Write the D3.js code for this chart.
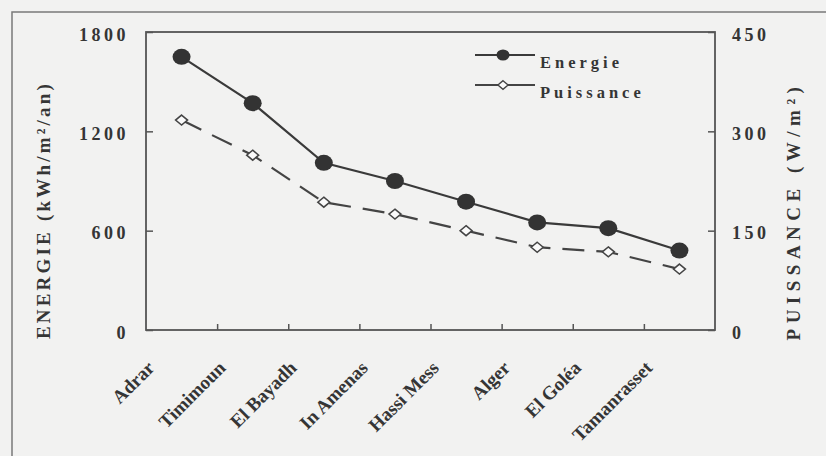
<!DOCTYPE html>
<html>
<head>
<meta charset="utf-8">
<script src="https://cdn.jsdelivr.net/npm/d3@7"></script>
<style>
  body { margin: 0; background: #f2f2f1; }
  svg { display: block; }
  text { font-family: "Liberation Serif", "Times New Roman", serif; font-weight: bold; fill: #353535; }
</style>
</head>
<body>
<svg id="chart"></svg>
<script>
var width = 826;
var height = 456;

// data
var stations = ["Adrar", "Timimoun", "El Bayadh", "In Amenas", "Hassi Mess", "Alger", "El Goléa", "Tamanrasset"];
var energie = [1650, 1370, 1010, 900, 775, 650, 615, 480];      // kWh/m²/an, left axis
var puissance = [317, 264, 193, 175, 150, 125, 118, 92];        // W/m², right axis
var leftTicks = [0, 600, 1200, 1800];
var rightTicks = [0, 150, 300, 450];

// plot box (don't call these top/left: window.top is taken)
var plotL = 146, plotR = 715, plotT = 32, plotB = 330;

var svg = d3.select("#chart")
	.attr("width", width)
	.attr("height", height);

// outer frame of the figure (only left and top edges are in view)
svg.append("rect")
	.attr("x", 12).attr("y", 12)
	.attr("width", 900).attr("height", 600)
	.attr("fill", "none")
	.attr("stroke", "#7a7a7a")
	.attr("stroke-width", 1.5);

var x = d3.scaleBand().domain(stations).range([plotL, plotR]).padding(0);
var xIdx = d3.scaleLinear().domain([0, stations.length]).range([plotL, plotR]);
var yL = d3.scaleLinear().domain([0, 1800]).range([plotB, plotT]);
var yR = d3.scaleLinear().domain([0, 450]).range([plotB, plotT]);

function cx(d, i) { return x(stations[i]) + x.bandwidth() / 2; }

// plot frame
svg.append("rect")
	.attr("x", plotL).attr("y", plotT)
	.attr("width", plotR - plotL).attr("height", plotB - plotT)
	.attr("fill", "none")
	.attr("stroke", "#555")
	.attr("stroke-width", 1.8);

// axes, ticks pointing inwards
var gL = svg.append("g").attr("transform", "translate(" + plotL + ",0)")
	.call(d3.axisLeft(yL).tickValues(leftTicks).tickSize(-7).tickPadding(17).tickFormat(d3.format("d")));
var gR = svg.append("g").attr("transform", "translate(" + plotR + ",0)")
	.call(d3.axisRight(yR).tickValues(rightTicks).tickSize(-7).tickPadding(17).tickFormat(d3.format("d")));
var gB = svg.append("g").attr("transform", "translate(0," + plotB + ")")
	.call(d3.axisBottom(xIdx).tickValues(d3.range(1, stations.length)).tickSize(-6).tickFormat(""));

[gL, gR, gB].forEach(function (g) {
	g.select(".domain").remove();
	g.selectAll(".tick line").attr("stroke", "#555").attr("stroke-width", 1.5);
	g.selectAll(".tick text")
		.attr("fill", "#353535")
		.style("font-family", "'Liberation Serif', serif")
		.style("font-weight", "bold")
		.style("font-size", "18px")
		.style("letter-spacing", "3.5px")
		.attr("dy", "0.45em");
});

// category labels, slanted
svg.append("g").selectAll("text")
	.data(stations)
	.enter().append("text")
	.attr("transform", function (d, i) { return "translate(" + (cx(d, i) - 26) + ",369) rotate(-45)"; })
	.attr("text-anchor", "end")
	.style("font-size", "19px")
	.text(function (d) { return d; });

// axis titles
svg.append("text")
	.attr("transform", "translate(50,210) rotate(-90)")
	.attr("text-anchor", "middle")
	.style("font-size", "19px")
	.style("letter-spacing", "3.2px")
	.text("ENERGIE (kWh/m²/an)");

svg.append("text")
	.attr("transform", "translate(800,211) rotate(-90)")
	.attr("text-anchor", "middle")
	.style("font-size", "19px")
	.style("letter-spacing", "5.5px")
	.text("PUISSANCE (W/m²)");

// lines
var lineE = d3.line().x(cx).y(function (d) { return yL(d); });
var lineP = d3.line().x(cx).y(function (d) { return yR(d); });

svg.append("path")
	.attr("d", lineP(puissance))
	.attr("fill", "none")
	.attr("stroke", "#444")
	.attr("stroke-width", 2.2)
	.attr("stroke-dasharray", "22,12");

svg.append("path")
	.attr("d", lineE(energie))
	.attr("fill", "none")
	.attr("stroke", "#3a3a3a")
	.attr("stroke-width", 2.2);

// markers
var diamond = "M0,-5L6,0L0,5L-6,0Z";
svg.append("g").selectAll("path")
	.data(puissance)
	.enter().append("path")
	.attr("d", diamond)
	.attr("transform", function (d, i) { return "translate(" + cx(d, i) + "," + yR(d) + ")"; })
	.attr("fill", "#fafafa")
	.attr("stroke", "#444")
	.attr("stroke-width", 1.5);

svg.append("g").selectAll("ellipse")
	.data(energie)
	.enter().append("ellipse")
	.attr("cx", cx)
	.attr("cy", function (d) { return yL(d); })
	.attr("rx", 9)
	.attr("ry", 8)
	.attr("fill", "#333");

// legend
var legend = svg.append("g");
legend.append("line").attr("x1", 475).attr("x2", 535).attr("y1", 55).attr("y2", 55)
	.attr("stroke", "#3a3a3a").attr("stroke-width", 2);
legend.append("ellipse").attr("cx", 503).attr("cy", 55).attr("rx", 6.5).attr("ry", 5.5).attr("fill", "#333");
legend.append("text").attr("x", 540).attr("y", 68)
	.style("font-size", "16.5px").style("letter-spacing", "4px").text("Energie");

legend.append("line").attr("x1", 475).attr("x2", 535).attr("y1", 85).attr("y2", 85)
	.attr("stroke", "#444").attr("stroke-width", 2);
legend.append("path").attr("d", diamond)
	.attr("transform", "translate(503,85) scale(0.85)")
	.attr("fill", "#fafafa").attr("stroke", "#444").attr("stroke-width", 1.6);
legend.append("text").attr("x", 540).attr("y", 98)
	.style("font-size", "16.5px").style("letter-spacing", "4px").text("Puissance");
</script>
</body>
</html>
